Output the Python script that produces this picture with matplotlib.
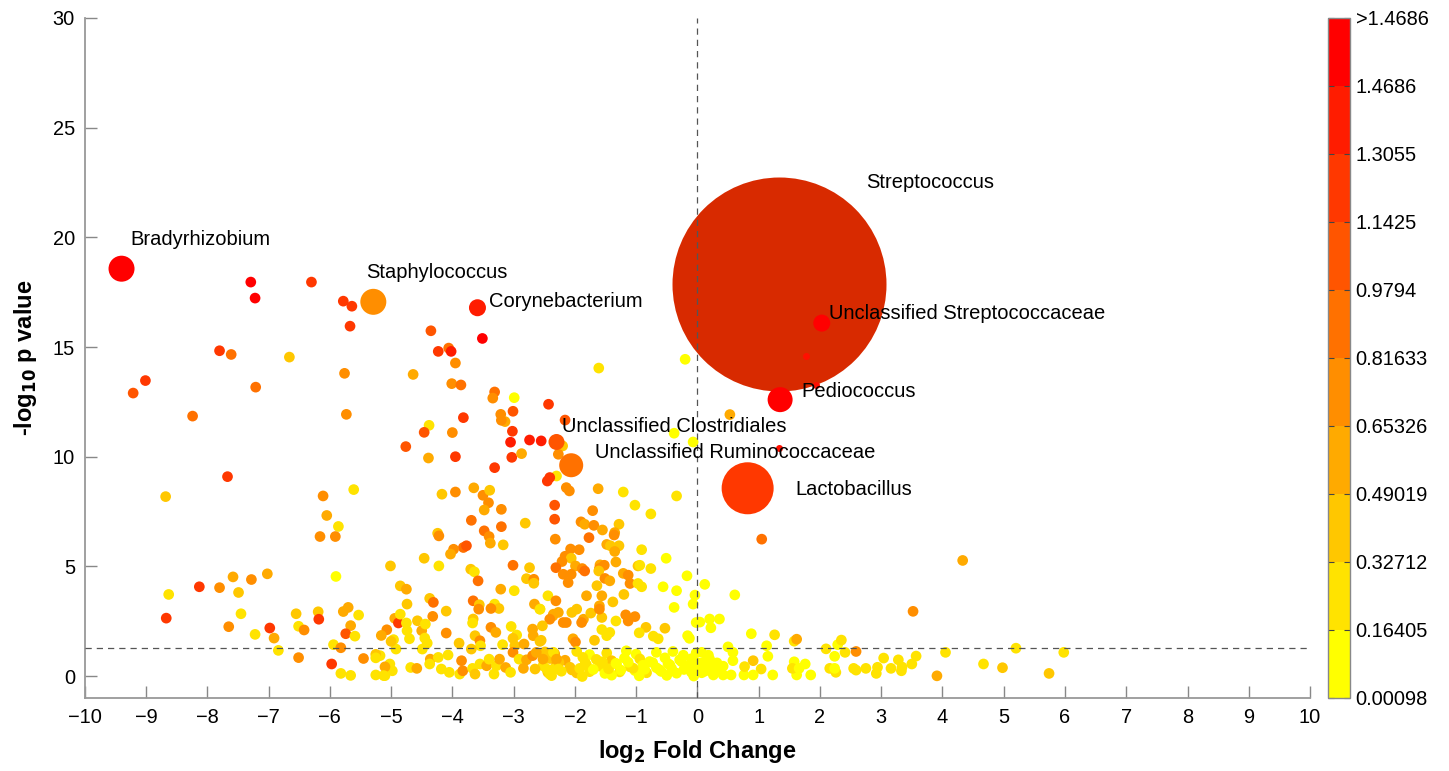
import numpy as np
import matplotlib
matplotlib.use('Agg')
import matplotlib.pyplot as plt
from matplotlib.colors import ListedColormap, BoundaryNorm
from matplotlib.cm import ScalarMappable

plt.rcParams['font.family'] = ['Liberation Sans', 'DejaVu Sans']

# colour classes (abundance value)
Y0, Y1, YO, OY, O, O2, OR, RO, R2, R = 0.08, 0.25, 0.40, 0.57, 0.73, 0.90, 1.06, 1.22, 1.38, 1.55

# ---- labelled genera ----
names = ['Streptococcus', 'Lactobacillus', 'Bradyrhizobium', 'Staphylococcus', 'Pediococcus',
         'Corynebacterium', 'Unclassified Streptococcaceae', 'Unclassified Ruminococcaceae',
         'Unclassified Clostridiales']
hl_fc = [1.33, 0.82, -9.40, -5.29, 1.35, -3.59, 2.03, -2.06, -2.30]
hl_p = [17.85, 8.56, 18.57, 17.06, 12.60, 16.79, 16.09, 9.61, 10.67]
hl_val = [1.20, 1.25, R, O, R, R2, R, O2, OR]
hl_diam = [214, 52, 26, 26, 25, 17, 17, 24, 16]   # marker diameter, px
lab_fc = [2.76, 1.60, -9.26, -5.41, 1.70, -3.40, 2.14, -1.67, -2.21]
lab_p = [22.5, 8.52, 19.9, 18.40, 12.98, 17.08, 16.53, 10.20, 11.38]

# ---- small red points near Streptococcus ----
small_fc = [1.78, 1.94, 1.34]
small_p = [14.59, 13.27, 10.41]

# ---- all other genera: upper left ----
fc_a = [-7.29, -6.30, -7.22, -5.78, -5.64, -5.67, -7.80, -7.61, -6.66, -5.76, -9.01, -9.21, -7.21, -8.24, -5.73]
p_a = [17.96, 17.96, 17.23, 17.09, 16.86, 15.95, 14.83, 14.66, 14.54, 13.80, 13.47, 12.90, 13.17, 11.85, 11.93]
v_a = [R, RO, R, RO, RO, RO, RO, O2, YO, O, RO, OR, O2, O2, O]

# ---- upper middle ----
fc_b = [-4.35, -3.51, -4.23, -4.06, -4.02, -3.95, -4.64, -4.01, -3.86, -3.31, -3.34, -2.99, -1.61, -0.20,
        -2.43, -3.01, -3.21, -3.14, -3.20, -4.38, -3.82, -4.46, -4.00, -3.02, -3.05, -2.74, -2.55, -2.16,
        -2.20, -4.76, -4.39, -3.95, -3.03, -2.87, -2.27, -0.38, -0.07, 0.53]
p_b = [15.74, 15.39, 14.80, 14.95, 14.80, 14.27, 13.75, 13.33, 13.27, 12.95, 12.67, 12.69, 14.04, 14.44,
       12.39, 12.07, 11.93, 11.60, 11.66, 11.43, 11.78, 11.11, 11.10, 11.16, 10.66, 10.76, 10.72, 11.67,
       10.49, 10.46, 9.94, 10.00, 9.97, 10.14, 10.11, 11.07, 10.67, 11.92]
v_b = [OR, R, RO, O2, R2, O, OY, O, O2, O2, O, Y0, Y1, Y0,
       RO, OR, O, OY, O, Y1, RO, OR, O, RO, R2, R2, R2, OR,
       YO, OR, OY, RO, RO, OY, O, Y0, Y0, OY]

# ---- right side (positive fold change) ----
fc_d = [1.05, 4.33, 3.52, 0.12, 0.61, 0.04, 0.20, 0.36, 0.22, 0.88, 1.26, 1.13, 1.58, 1.62, 2.10, 2.29,
        2.35, 2.41, 2.24, 2.59, 3.04, 3.28, 3.57, 4.05, 5.20, 4.67, 4.98, 5.74, 3.91, 3.50, 3.34, 3.33,
        3.16, 2.94, 2.92, 2.75, 2.59, 2.55, 2.26, 2.16, 2.24, 1.85, 1.76, 1.62, 1.58, 1.55, 1.66, 1.23,
        1.15, 0.91, 1.04, 0.91, 0.76, 0.77, 0.58, 0.55, 0.42, 0.42, 0.28, 0.20, 0.58, 0.50, 0.07, 0.07,
        0.12, 0.26, 5.98]
p_d = [6.24, 5.27, 2.95, 4.18, 3.70, 2.46, 2.60, 2.60, 2.20, 1.93, 1.88, 1.38, 1.59, 1.68, 1.24, 1.43,
       1.64, 1.08, 0.90, 1.12, 0.82, 0.74, 0.91, 1.08, 1.27, 0.55, 0.38, 0.12, 0.01, 0.55, 0.41, 0.24,
       0.35, 0.40, 0.12, 0.35, 0.27, 0.35, 0.17, 0.35, 0.35, 0.05, 0.55, 0.05, 0.65, 0.35, 0.35, 0.05,
       0.90, 0.70, 0.32, 0.05, 0.05, 0.43, 0.70, 0.05, 0.05, 0.45, 0.32, 0.77, 1.08, 1.33, 1.08, 0.15,
       0.35, 0.05, 1.08]
v_d = [O2, OY, O, Y0, Y0, Y0, Y0, Y0, Y0, Y0, Y1, Y0, Y1, OY, Y1, Y0,
       Y1, Y1, Y0, O, Y1, Y1, Y1, Y1, Y1, Y1, YO, YO, OY, Y1, Y1, Y1,
       Y1, Y1, Y1, Y1, Y1, Y1, Y1, Y1, Y0, Y0, Y0, Y0, Y0, Y1, Y0, Y0,
       Y0, YO, Y1, Y0, Y0, Y1, Y0, Y0, Y0, Y0, Y0, Y0, Y0, Y0, Y0, Y0,
       Y0, Y0, Y1]

# ---- centre cloud (-2.6 .. 0) ----
fc_e = [-2.30, -2.45, -2.41, -2.14, -2.09, -1.62, -1.21, -0.34, -1.02, -0.76, -2.33, -1.71, -2.33, -1.90,
        -1.84, -1.69, -1.55, -1.28, -1.35, -1.36, -1.77, -2.32, -1.48, -1.42, -1.28, -1.35, -0.91, -0.51,
        -2.07, -1.93, -2.16, -2.06, -2.21, -2.31, -1.99, -1.88, -1.84, -1.59, -1.60, -1.52, -1.61, -1.33,
        -1.21, -1.13, -0.97, -0.94, -0.76, -2.19, -2.06, -2.11, -1.51, -1.43, -1.64, -1.10, -0.97, -0.91,
        -0.56, -0.17, -0.34, -0.04, -0.07, -0.38, -2.44, -2.31, -2.57, -2.35, -2.27, -2.19, -2.14, -2.05,
        -1.97, -1.86, -1.89, -1.81, -1.74, -1.60, -1.56, -1.56, -1.60, -1.38, -1.20, -1.33, -1.17, -1.13,
        -1.02, -0.84, -0.95, -0.53, -0.72, -0.64, -0.16, -0.13, -0.02, -1.56, -1.48, -1.43, -1.68, -2.03,
        -1.99, -2.55]
p_e = [9.12, 8.89, 9.05, 8.59, 8.44, 8.54, 8.39, 8.21, 7.79, 7.39, 7.79, 7.54, 7.15, 7.03,
       6.92, 6.87, 6.66, 6.92, 6.54, 6.43, 6.31, 6.24, 6.00, 5.94, 5.94, 5.68, 5.76, 5.37,
       5.79, 5.76, 5.46, 5.37, 5.22, 4.94, 5.02, 4.90, 4.79, 5.07, 4.90, 5.05, 4.79, 5.20,
       4.68, 4.60, 5.02, 5.05, 4.90, 4.64, 4.64, 4.26, 4.45, 4.34, 4.12, 4.22, 4.22, 4.07,
       4.07, 4.57, 3.89, 3.69, 3.28, 3.13, 3.66, 3.43, 3.05, 2.82, 2.90, 2.44, 2.44, 2.90,
       3.05, 2.59, 2.44, 3.66, 2.87, 3.20, 3.66, 2.67, 3.05, 3.38, 3.72, 2.51, 2.79, 2.51,
       2.71, 2.22, 1.97, 2.18, 1.82, 1.70, 1.84, 1.72, 2.44, 2.12, 1.84, 1.99, 1.63, 1.70,
       1.55, 1.63]
v_e = [Y1, RO, RO, O, O, OY, Y1, Y1, Y1, Y1, OR, O, OR, O,
       OY, O, OY, YO, OY, O, O2, O, OY, YO, YO, OY, Y1, Y0,
       O, O, O, YO, O, O2, OY, O, O2, OY, O, O, YO, OY,
       OY, O, YO, Y1, Y1, O, O, O, O, OY, YO, O, Y1, Y1,
       Y0, Y0, Y0, Y0, Y0, Y0, Y1, O, Y1, OY, OY, O, O, YO,
       YO, OY, O, OY, YO, OY, OY, YO, O, YO, YO, Y1, O, O,
       O, YO, Y1, YO, Y1, Y1, Y0, Y0, Y0, Y1, Y1, Y1, YO, OY,
       O, YO]

# ---- centre band below the significance line ----
fc_f = [-2.49, -2.33, -1.97, -1.76, -1.48, -1.16, -1.00, -0.67, -0.40, -0.23, -0.02,
        -2.41, -2.16, -1.87, -1.65, -1.40, -1.19, -0.94, -0.78, -0.53, -0.29, -0.10, 0.15,
        -2.52, -2.30, -2.08, -1.81, -1.59, -1.32, -1.10, -0.89, -0.67, -0.45, -0.18, 0.04, 0.25,
        -2.44, -2.22, -1.97, -1.76, -1.51, -1.27, -1.02, -0.83, -0.59, -0.34, -0.10, 0.12,
        -2.38, -1.88, -1.40, -0.95, -0.50, -0.06,
        -2.35, -2.05, -1.92, -1.70, -1.45, -1.25, -1.05, -0.86, -0.62, -0.42, -0.22, -0.05,
        0.10, 0.32, -2.26, -1.83, -1.55, -1.33, -1.13, -0.73, -0.48, -0.26, 0.02, 0.18, 0.35]
p_f = [1.10, 1.02, 1.12, 0.98, 1.05, 1.15, 1.00, 1.08, 1.12, 0.95, 1.06,
       0.80, 0.72, 0.85, 0.76, 0.70, 0.82, 0.78, 0.66, 0.83, 0.74, 0.79, 0.70,
       0.47, 0.52, 0.40, 0.50, 0.45, 0.55, 0.42, 0.49, 0.38, 0.51, 0.44, 0.46, 0.53,
       0.17, 0.22, 0.14, 0.20, 0.12, 0.19, 0.25, 0.15, 0.21, 0.13, 0.18, 0.22,
       0.02, -0.02, 0.04, 0.01, 0.03, 0.00,
       0.32, 0.28, 0.35, 0.30, 0.33, 0.27, 0.36, 0.31, 0.29, 0.34, 0.30, 0.38,
       0.62, 0.60, 0.62, 0.60, 0.65, 0.58, 0.63, 0.61, 0.57, 0.66, 0.59, 0.95, 0.25]
v_f = [YO, OY, Y1, Y0, Y1, Y0, Y0, Y0, Y0, Y0, Y0,
       YO, OY, Y1, Y1, YO, Y0, Y1, Y0, Y0, Y0, Y0, Y0,
       Y1, OY, YO, Y1, Y1, Y0, Y1, Y0, Y0, Y0, Y0, Y0, Y0,
       YO, Y1, YO, Y1, Y0, Y1, Y0, Y1, Y0, Y0, Y0, Y0,
       Y1, Y1, Y0, Y0, Y0, Y0,
       Y1, YO, Y1, Y0, Y1, Y0, Y1, Y0, Y0, Y0, Y0, Y0,
       Y0, Y0, YO, Y1, Y1, Y0, Y0, Y0, Y0, Y0, Y0, Y0, Y0]

# ---- left-centre cloud (-5.2 .. -2.3) ----
fc_g = [-3.31, -4.17, -3.95, -3.65, -3.50, -3.39, -3.41, -3.48, -3.20, -2.81, -3.69, -3.20, -3.48, -3.40,
        -3.38, -3.17, -4.24, -4.22, -3.82, -3.77, -3.98, -4.03, -4.46, -4.22, -5.01, -3.70, -3.64, -3.58,
        -3.01, -2.74, -2.79, -2.67, -2.67, -3.21, -2.99, -4.85, -4.75, -4.37, -4.31, -4.74, -4.10, -4.32,
        -3.66, -3.56, -3.57, -3.31, -3.24, -3.37, -3.66, -3.67, -2.66, -2.57, -2.36, -2.41, -2.53, -4.94,
        -4.88, -4.85, -4.75, -4.74, -4.57, -4.50, -4.44, -5.07, -4.96, -4.70, -4.45, -4.41, -4.10, -3.89,
        -3.37, -3.29, -3.63, -3.55, -3.54, -3.69, -3.04, -2.95, -3.01, -2.69, -2.68, -2.57, -3.18, -2.98,
        -2.83, -4.92, -4.49, -5.18]
p_g = [9.50, 8.29, 8.39, 8.58, 8.24, 8.47, 7.90, 7.57, 7.60, 6.97, 7.10, 6.81, 6.62, 6.36,
       6.06, 5.98, 6.51, 6.39, 5.86, 5.94, 5.78, 5.56, 5.37, 5.02, 5.02, 4.87, 4.75, 4.34,
       5.05, 4.94, 4.44, 4.41, 4.23, 3.96, 3.89, 4.11, 3.96, 3.54, 3.36, 3.28, 2.96, 2.72,
       3.43, 3.25, 3.05, 3.28, 3.08, 3.08, 2.60, 2.42, 3.28, 3.05, 2.74, 2.59, 2.29, 2.63,
       2.42, 2.82, 2.42, 2.07, 2.52, 2.07, 2.37, 2.11, 1.66, 1.70, 1.73, 1.50, 1.96, 1.50,
       2.22, 1.99, 1.84, 1.61, 1.38, 1.23, 2.26, 1.87, 1.72, 2.14, 1.84, 1.58, 1.43, 1.38,
       1.46, 1.23, 1.23, 0.93]
v_g = [RO, YO, O, OY, O, YO, O, OY, O, YO, O2, O2, O2, O,
       OY, YO, YO, O, O2, OR, O, OY, YO, Y1, YO, YO, Y1, O2,
       O2, YO, YO, O, YO, OY, Y1, YO, OY, YO, O2, YO, YO, O,
       O2, YO, O, Y1, YO, O, YO, Y1, OY, Y1, OY, O, YO, OY,
       RO, Y1, Y1, Y1, YO, OY, Y1, O, Y1, Y1, Y1, Y1, O, YO,
       O, OY, YO, O, Y1, YO, Y1, Y1, YO, OY, OY, YO, Y1, YO,
       OY, Y1, Y1, Y1]

# ---- left-centre band below the significance line ----
fc_h = [-5.02, -4.98, -5.10, -5.10, -4.68, -4.58, -4.36, -4.37, -4.23, -4.18, -4.07, -4.05, -3.85,
        -3.88, -3.83, -3.67, -3.63, -3.55, -3.44, -3.40, -3.32, -3.28, -3.23, -3.13, -3.05, -3.01,
        -2.91, -2.84, -2.79, -2.69, -2.63, -2.65, -2.52, -2.46, -2.41, -2.35, -2.30, -2.27]
p_h = [0.55, 0.24, 0.02, 0.42, 0.39, 0.35, 0.77, 0.55, 0.85, 0.32, 0.96, 0.17, 0.70,
       0.09, 0.24, 0.35, 0.09, 0.55, 0.47, 0.77, 0.09, 0.47, 0.77, 0.39, 0.17, 1.08,
       0.77, 0.35, 0.74, 0.93, 1.08, 0.32, 0.77, 0.32, 0.09, 1.08, 0.77, 0.32]
v_h = [Y1, Y1, Y1, OY, Y1, OY, OY, Y1, Y1, Y1, Y1, Y1, O,
       Y1, O, Y1, YO, Y1, OY, Y1, Y1, Y1, OY, OY, Y1, O,
       Y1, OY, OY, O, OY, YO, OY, Y1, Y1, Y1, OY, Y1]

# ---- far left (< -5) ----
fc_k = [-7.67, -8.68, -6.11, -5.61, -6.05, -5.86, -6.16, -5.91, -5.90, -7.58, -7.02, -7.28, -7.80, -8.13,
        -7.49, -8.63, -7.45, -7.65, -7.22, -6.98, -6.91, -6.84, -8.67, -6.55, -6.51, -6.42, -6.51, -6.19,
        -6.18, -5.97, -5.82, -5.66, -5.78, -5.70, -5.53, -5.66, -5.74, -5.59, -5.94, -5.82, -5.45, -5.25,
        -5.25, -5.25, -5.12, -5.16, -5.00]
p_k = [9.09, 8.18, 8.21, 8.50, 7.32, 6.82, 6.36, 6.36, 4.54, 4.52, 4.66, 4.40, 4.03, 4.07,
       3.81, 3.72, 2.84, 2.25, 1.90, 2.19, 1.73, 1.17, 2.64, 2.84, 2.27, 2.10, 0.84, 2.93,
       2.59, 0.55, 0.12, 0.03, 2.94, 3.13, 2.78, 2.30, 1.93, 1.82, 1.43, 1.29, 0.80, 0.99,
       0.83, 0.05, 0.02, 1.85, 1.58]
v_k = [RO, YO, O, Y1, OY, Y1, O, O, Y0, OY, OY, O, O, RO,
       YO, Y1, Y1, O, Y1, RO, OY, Y1, RO, YO, Y1, O, O, YO,
       RO, RO, Y1, Y1, OY, OY, Y1, OY, OR, Y1, Y1, O, O, YO,
       Y1, Y1, Y1, OY, YO]

fc = fc_a + fc_b + fc_d + fc_e + fc_f + fc_g + fc_h + fc_k
nlp = p_a + p_b + p_d + p_e + p_f + p_g + p_h + p_k
val = v_a + v_b + v_d + v_e + v_f + v_g + v_h + v_k

# colour scale: 10 discrete bins, yellow -> red
bounds = np.linspace(0.00098, 0.00098 + 10 * 0.163071, 11)
cb_labels = ['0.00098', '0.16405', '0.32712', '0.49019', '0.65326', '0.81633',
             '0.9794', '1.1425', '1.3055', '1.4686', '>1.4686']
cmap = ListedColormap(plt.cm.autumn_r(np.linspace(0, 1, 10)))
norm = BoundaryNorm(bounds, cmap.N)

fig = plt.figure(figsize=(14.49, 7.71), dpi=100)
ax = fig.add_axes([0.0585, 0.0947, 0.8456, 0.882])
cax = fig.add_axes([0.9165, 0.0947, 0.0152, 0.882])

px2pt = 72.0 / fig.dpi
# Streptococcus (own darker red), drawn beneath everything
ax.scatter(hl_fc[:1], hl_p[:1], s=(hl_diam[0] * px2pt) ** 2, color='#d82a00', linewidths=0, zorder=1)
ax.scatter(fc, nlp, c=val, cmap=cmap, norm=norm, s=(10.7 * px2pt) ** 2, linewidths=0, zorder=2)
ax.scatter(hl_fc[1:], hl_p[1:], c=hl_val[1:], cmap=cmap, norm=norm,
           s=[(d * px2pt) ** 2 for d in hl_diam[1:]], linewidths=0, zorder=3)
ax.scatter(small_fc, small_p, color='#ff1000', s=(7 * px2pt) ** 2, linewidths=0, zorder=3)

for name, tx, ty in zip(names, lab_fc, lab_p):
    ax.text(tx, ty, name, fontsize=14.5, ha='left', va='center', zorder=5)

ax.axhline(-np.log10(0.05), color='#555555', lw=0.9, ls=(0, (5, 4)), zorder=4)
ax.axvline(0, color='#555555', lw=0.9, ls=(0, (5, 4)), zorder=4)

ax.set_xlim(-10, 10)
ax.set_ylim(-1, 30)
ax.set_xticks(np.arange(-10, 11, 1))
ax.set_yticks(np.arange(0, 31, 5))
ax.tick_params(direction='in', length=8.5, width=1, color='#888888', labelsize=14.4, pad=7)
for side in ['top', 'right']:
    ax.spines[side].set_visible(False)
for side in ['left', 'bottom']:
    ax.spines[side].set_color('#999999')
    ax.spines[side].set_linewidth(1.3)

ax.set_xlabel(r'log$_{\mathbf{2}}$ Fold Change', fontsize=17, fontweight='bold', labelpad=8)
ax.set_ylabel(r'-log$_{\mathbf{10}}$ p value', fontsize=17, fontweight='bold', labelpad=10)

sm = ScalarMappable(norm=norm, cmap=cmap)
cb = fig.colorbar(sm, cax=cax, ticks=bounds)
cb.ax.set_yticklabels(cb_labels)
cb.ax.tick_params(direction='in', left=True, right=True, length=4, color='#444444', labelsize=14.4, pad=4)
cb.outline.set_edgecolor('#888888')
cb.outline.set_linewidth(1)

fig.savefig('out.png', dpi=100)
